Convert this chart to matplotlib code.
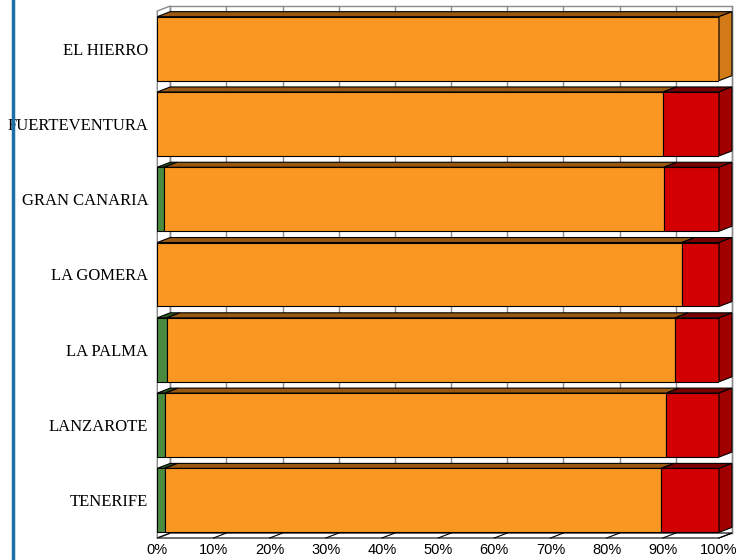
import matplotlib
matplotlib.use('Agg')
import matplotlib.pyplot as plt
from matplotlib.patches import Polygon, Rectangle
from matplotlib.lines import Line2D

# --- Data (percent of each island) ---
ISLANDS = ['EL HIERRO', 'FUERTEVENTURA', 'GRAN CANARIA', 'LA GOMERA',
           'LA PALMA', 'LANZAROTE', 'TENERIFE']
GREEN_PCT = [0.0, 0.0, 1.2, 0.0, 1.7, 1.4, 1.3]
ORANGE_PCT = [100.0, 90.1, 89.0, 93.4, 90.5, 89.2, 88.4]
RED_PCT = [0.0, 9.9, 9.8, 6.6, 7.8, 9.4, 10.3]
X_TICKS = [0, 10, 20, 30, 40, 50, 60, 70, 80, 90, 100]
X_TICK_LABELS = [f'{t}%' for t in X_TICKS]

# --- Style ---
# (front, top, side) colours for each series
SERIES_COLORS = [
    ('#4b8b3f', '#2c5a24', '#356b2d'),
    ('#fa9722', '#9a5810', '#d27a18'),
    ('#d20000', '#7a0000', '#a00000'),
]
DEPTH_X = 2.3     # 3d depth in x data units (~13 px)
DEPTH_Y = 0.066   # 3d depth in y data units (~5 px)
BAR_HEIGHT = 0.85
Y_MIN, Y_MAX = -0.5, 6.5
GRID_COLOR = '#8a8a8a'


def add_poly(ax, pts, face, edge='black', lw=0.8, z=3):
    ax.add_patch(Polygon(pts, closed=True, facecolor=face, edgecolor=edge,
                         linewidth=lw, zorder=z, clip_on=False))


def main():
    fig = plt.figure(figsize=(7.39, 5.6), dpi=100)
    ax = fig.add_axes([157.3 / 739, 22 / 560, 561.7 / 739, 527 / 560])
    ax.set_xlim(0, 100)
    ax.set_ylim(Y_MIN, Y_MAX)
    for s in ax.spines.values():
        s.set_visible(False)

    dx, dy = DEPTH_X, DEPTH_Y

    # back wall, floor and left wall
    ax.add_patch(Rectangle((dx, Y_MIN + dy), 100, Y_MAX - Y_MIN, facecolor='white',
                           edgecolor=GRID_COLOR, linewidth=1.0, zorder=0, clip_on=False))
    add_poly(ax, [(0, Y_MIN), (100, Y_MIN), (100 + dx, Y_MIN + dy), (dx, Y_MIN + dy)],
             'white', edge='black', lw=0.8, z=0.5)
    add_poly(ax, [(0, Y_MIN), (dx, Y_MIN + dy), (dx, Y_MAX + dy), (0, Y_MAX)],
             'white', edge=GRID_COLOR, lw=1.0, z=0.5)
    for t in X_TICKS:
        ax.add_line(Line2D([t + dx, t + dx], [Y_MIN + dy, Y_MAX + dy], color=GRID_COLOR,
                           linewidth=1.0, zorder=0.2, clip_on=False))
        ax.add_line(Line2D([t, t + dx], [Y_MIN, Y_MIN + dy], color='black',
                           linewidth=0.8, zorder=0.6, clip_on=False))

    ypos = [len(ISLANDS) - 1 - i for i in range(len(ISLANDS))]
    series = [GREEN_PCT, ORANGE_PCT, RED_PCT]

    left = [0.0] * len(ISLANDS)
    last_seg = [None] * len(ISLANDS)
    for vals, (front, top, side) in zip(series, SERIES_COLORS):
        ax.barh(ypos, vals, left=left, height=BAR_HEIGHT, color=front,
                edgecolor='black', linewidth=0.8, zorder=3)
        for i, v in enumerate(vals):
            if v <= 0:
                continue
            x0, x1 = left[i], left[i] + v
            yt = ypos[i] + BAR_HEIGHT / 2
            add_poly(ax, [(x0, yt), (x1, yt), (x1 + dx, yt + dy), (x0 + dx, yt + dy)], top)
            last_seg[i] = (x1, side)
        left = [l + v for l, v in zip(left, vals)]

    # right side faces of each bar
    for i, seg in enumerate(last_seg):
        x1, side = seg
        yb = ypos[i] - BAR_HEIGHT / 2
        yt = ypos[i] + BAR_HEIGHT / 2
        add_poly(ax, [(x1, yb), (x1, yt), (x1 + dx, yt + dy), (x1 + dx, yb + dy)], side)

    ax.set_xticks(X_TICKS)
    ax.set_xticklabels(X_TICK_LABELS, fontfamily='Liberation Sans', fontsize=10.5)
    ax.set_yticks(ypos)
    ax.set_yticklabels(ISLANDS, fontfamily='Liberation Serif', fontsize=12)
    ax.tick_params(axis='x', length=0, pad=3.5)
    ax.tick_params(axis='y', length=0, pad=6.5)

    # blue page rule on the left
    fig.add_artist(Line2D([13 / 739, 13 / 739], [0, 1], color='#1d6fa5',
                          linewidth=2.5, transform=fig.transFigure))

    fig.savefig('out.png', dpi=100)


if __name__ == '__main__':
    main()
